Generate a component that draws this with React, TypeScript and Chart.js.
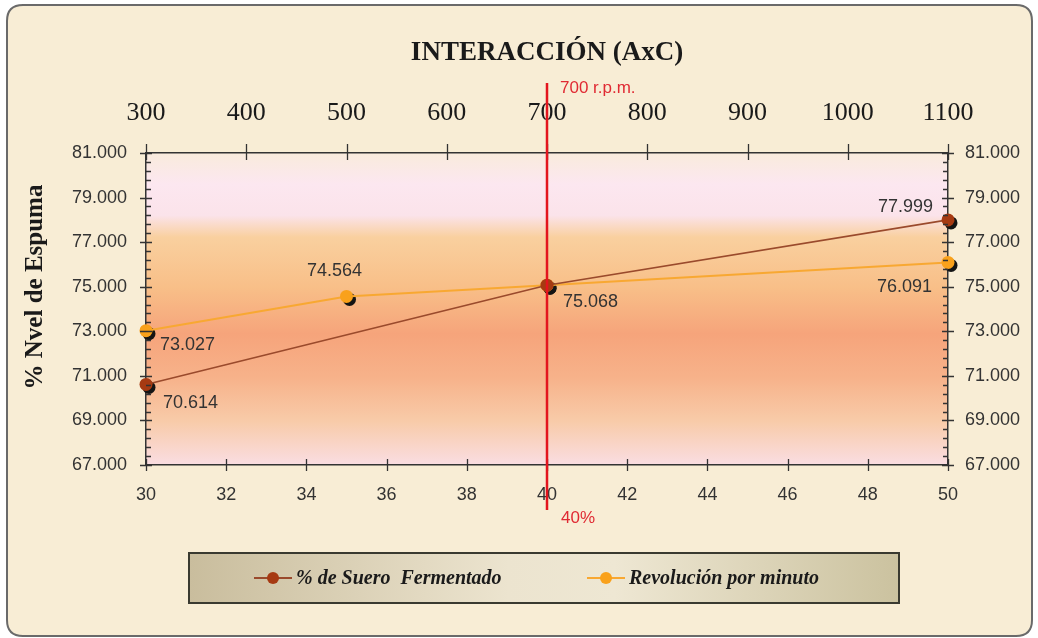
import React, { useEffect, useRef } from 'react';
import { Chart, registerables } from 'chart.js';

Chart.register(...registerables);

// ---- data ----
const sueroX = [30, 40, 50];
const sueroY = [70.614, 75.068, 77.999];
const rpmX = [300, 500, 700, 1100];
const rpmY = [73.027, 74.564, 75.068, 76.091];
const seriesNames = ['% de Suero  Fermentado', 'Revolución por minuto'];
const chartTitle = 'INTERACCIÓN (AxC)';
const yAxisTitle = '% Nvel de Espuma';
const refBottom = 40;
const refTopLabel = '700 r.p.m.';
const refBottomLabel = '40%';
const yMin = 67;
const yMax = 81;
const yStep = 2;
const yMinorStep = 0.4;
const xMin = 30;
const xMax = 50;
const xStep = 2;
const x2Min = 300;
const x2Max = 1100;
const x2Step = 100;

// label placement (style only): [dx, dy, align] ; null = no label
const sueroLabelPlace: any[] = [[17, 19, 'left'], [16, 17, 'left'], [-15, -13, 'right']];
const rpmLabelPlace: any[] = [[14, 14, 'left'], [-12, -25, 'center'], null, [-16, 25, 'right']];

const BROWN = '#a63a12';
const BROWN_LINE = '#9a4a2c';
const ORANGE = '#f9a11b';
const ORANGE_LINE = '#f8a832';
const SANS = '"Liberation Sans", Arial, sans-serif';
const SERIF = '"Liberation Serif", "Times New Roman", serif';

function roundRect(ctx: CanvasRenderingContext2D, x: number, y: number, w: number, h: number, r: number) {
  ctx.beginPath();
  ctx.moveTo(x + r, y);
  ctx.lineTo(x + w - r, y);
  ctx.quadraticCurveTo(x + w, y, x + w, y + r);
  ctx.lineTo(x + w, y + h - r);
  ctx.quadraticCurveTo(x + w, y + h, x + w - r, y + h);
  ctx.lineTo(x + r, y + h);
  ctx.quadraticCurveTo(x, y + h, x, y + h - r);
  ctx.lineTo(x, y + r);
  ctx.quadraticCurveTo(x, y, x + r, y);
  ctx.closePath();
}

const deco = {
  id: 'deco',
  beforeDraw(chart: any) {
    const { ctx, chartArea: a, width, height } = chart;
    ctx.save();
    ctx.fillStyle = '#ffffff';
    ctx.fillRect(0, 0, width, height);
    roundRect(ctx, 7, 5, width - 13, height - 7, 16);
    ctx.fillStyle = '#f8edd5';
    ctx.fill();
    ctx.lineWidth = 2;
    ctx.strokeStyle = '#6a6a6a';
    ctx.stroke();
    const g = ctx.createLinearGradient(0, a.top, 0, a.bottom);
    g.addColorStop(0.0, '#f9ebdc');
    g.addColorStop(0.1, '#fce7f0');
    g.addColorStop(0.2, '#fbe3ea');
    g.addColorStop(0.27, '#f9d09f');
    g.addColorStop(0.43, '#f8bf88');
    g.addColorStop(0.58, '#f6a47b');
    g.addColorStop(0.72, '#f7b28a');
    g.addColorStop(0.86, '#f8cba9');
    g.addColorStop(1.0, '#fadde2');
    ctx.fillStyle = g;
    ctx.fillRect(a.left, a.top, a.right - a.left, a.bottom - a.top);
    ctx.restore();
  },
  beforeDatasetsDraw(chart: any) {
    const { ctx } = chart;
    ctx.save();
    ctx.fillStyle = '#141414';
    chart.data.datasets.forEach((_: any, di: number) => {
      const meta = chart.getDatasetMeta(di);
      meta.data.forEach((el: any) => {
        ctx.beginPath();
        ctx.arc(el.x + 3, el.y + 3, 6.5, 0, Math.PI * 2);
        ctx.fill();
      });
    });
    ctx.restore();
  },
  afterDraw(chart: any) {
    const { ctx, chartArea: a } = chart;
    const sy = chart.scales.y;
    const sx = chart.scales.x;
    const sx2 = chart.scales.x2;
    ctx.save();
    ctx.strokeStyle = '#333333';
    ctx.lineWidth = 1.3;
    // y minor / major ticks both sides
    const n = Math.round((yMax - yMin) / yMinorStep);
    for (let i = 0; i <= n; i++) {
      const v = yMin + i * yMinorStep;
      const py = Math.round(sy.getPixelForValue(v)) + 0.5;
      const major = Math.abs((v - yMin) / yStep - Math.round((v - yMin) / yStep)) < 1e-6;
      ctx.beginPath();
      if (major) {
        ctx.moveTo(a.left - 6, py); ctx.lineTo(a.left + 6, py);
        ctx.moveTo(a.right - 6, py); ctx.lineTo(a.right + 6, py);
      } else {
        ctx.moveTo(a.left, py); ctx.lineTo(a.left + 5, py);
        ctx.moveTo(a.right - 5, py); ctx.lineTo(a.right, py);
      }
      ctx.stroke();
    }
    sx.ticks.forEach((t: any) => {
      const px = Math.round(sx.getPixelForValue(t.value)) + 0.5;
      ctx.beginPath();
      ctx.moveTo(px, a.bottom - 6); ctx.lineTo(px, a.bottom + 6);
      ctx.stroke();
    });
    sx2.ticks.forEach((t: any) => {
      const px = Math.round(sx2.getPixelForValue(t.value)) + 0.5;
      ctx.beginPath();
      ctx.moveTo(px, a.top - 9); ctx.lineTo(px, a.top + 7);
      ctx.stroke();
    });

    // data labels
    ctx.font = `18px ${SANS}`;
    ctx.fillStyle = '#333333';
    ctx.textBaseline = 'middle';
    const drawLabels = (di: number, vals: number[], place: any[]) => {
      const meta = chart.getDatasetMeta(di);
      meta.data.forEach((el: any, i: number) => {
        const p = place[i];
        if (!p) return;
        ctx.textAlign = p[2];
        ctx.fillText(vals[i].toFixed(3), el.x + p[0], el.y + p[1]);
      });
    };
    drawLabels(0, sueroY, sueroLabelPlace);
    drawLabels(1, rpmY, rpmLabelPlace);

    // reference line
    const rx = sx.getPixelForValue(refBottom);
    ctx.strokeStyle = '#e3151e';
    ctx.lineWidth = 2.5;
    ctx.beginPath();
    ctx.moveTo(rx, 83);
    ctx.lineTo(rx, 510);
    ctx.stroke();
    ctx.fillStyle = '#e02a33';
    ctx.font = `17px ${SANS}`;
    ctx.textAlign = 'left';
    ctx.fillText(refTopLabel, rx + 13, 88);
    ctx.fillText(refBottomLabel, rx + 14, 518);

    // title
    ctx.fillStyle = '#1a1a1a';
    ctx.font = `bold 27px ${SERIF}`;
    ctx.textAlign = 'center';
    ctx.fillText(chartTitle, (a.left + a.right) / 2, 53);

    // y axis title
    ctx.save();
    ctx.translate(36, (a.top + a.bottom) / 2 - 22);
    ctx.rotate(-Math.PI / 2);
    ctx.font = `bold 25px ${SERIF}`;
    ctx.fillText(yAxisTitle, 0, 0);
    ctx.restore();

    // legend
    const lx = 189, ly = 553, lw = 710, lh = 50;
    const lg = ctx.createLinearGradient(lx, 0, lx + lw, 0);
    lg.addColorStop(0, '#c9bd9d');
    lg.addColorStop(0.45, '#ece4cf');
    lg.addColorStop(0.6, '#eee7d3');
    lg.addColorStop(1, '#cbc29f');
    ctx.fillStyle = lg;
    ctx.fillRect(lx, ly, lw, lh);
    ctx.strokeStyle = '#3a3a30';
    ctx.lineWidth = 2;
    ctx.strokeRect(lx, ly, lw, lh);
    const cy = ly + lh / 2;
    const items = [
      { x: 254, color: BROWN, line: BROWN_LINE },
      { x: 587, color: ORANGE, line: ORANGE_LINE },
    ];
    items.forEach((it, i) => {
      ctx.strokeStyle = it.line;
      ctx.lineWidth = 2;
      ctx.beginPath();
      ctx.moveTo(it.x, cy); ctx.lineTo(it.x + 38, cy);
      ctx.stroke();
      ctx.fillStyle = it.color;
      ctx.beginPath();
      ctx.arc(it.x + 19, cy, 6, 0, Math.PI * 2);
      ctx.fill();
      ctx.fillStyle = '#1a1a1a';
      ctx.font = `italic bold 20px ${SERIF}`;
      ctx.textAlign = 'left';
      ctx.fillText(chart.data.datasets[i].label, it.x + 42, cy + 1);
    });
    ctx.restore();
  },
};

export default function App() {
  const ref = useRef<HTMLCanvasElement | null>(null);
  useEffect(() => {
    document.body.style.margin = '0';
    const canvas = ref.current!;
    const chart = new Chart(canvas, {
      type: 'line',
      data: {
        datasets: [
          {
            label: seriesNames[0],
            data: sueroX.map((x, i) => ({ x, y: sueroY[i] })),
            xAxisID: 'x',
            yAxisID: 'y',
            borderColor: BROWN_LINE,
            borderWidth: 1.6,
            pointBackgroundColor: BROWN,
            pointBorderColor: BROWN,
            pointRadius: 6.5,
            pointBorderWidth: 0,
            clip: false as any,
          },
          {
            label: seriesNames[1],
            data: rpmX.map((x, i) => ({ x, y: rpmY[i] })),
            xAxisID: 'x2',
            yAxisID: 'y',
            borderColor: ORANGE_LINE,
            borderWidth: 2,
            pointBackgroundColor: ORANGE,
            pointBorderColor: ORANGE,
            pointRadius: 6.5,
            pointBorderWidth: 0,
            clip: false as any,
          },
        ],
      },
      options: {
        responsive: false,
        animation: false,
        devicePixelRatio: 1,
        layout: { padding: 0 },
        plugins: { legend: { display: false }, title: { display: false }, tooltip: { enabled: false } },
        scales: {
          x: {
            type: 'linear',
            position: 'bottom',
            min: xMin,
            max: xMax,
            grid: { display: false, drawTicks: false },
            border: { display: true, color: '#333333', width: 1.5 },
            ticks: { stepSize: xStep, padding: 19, color: '#333333', font: { family: SANS, size: 18 }, autoSkip: false, maxRotation: 0, callback: (v: any) => String(v) },
            afterFit: (s: any) => { s.height = 173; },
          },
          x2: {
            type: 'linear',
            position: 'top',
            min: x2Min,
            max: x2Max,
            grid: { display: false, drawTicks: false },
            border: { display: true, color: '#333333', width: 1.5 },
            ticks: { stepSize: x2Step, padding: 24, color: '#1a1a1a', font: { family: SERIF, size: 26 }, autoSkip: false, maxRotation: 0, callback: (v: any) => String(v) },
            afterFit: (s: any) => { s.height = 153; },
          },
          y: {
            type: 'linear',
            position: 'left',
            min: yMin,
            max: yMax,
            grid: { display: false, drawTicks: false },
            border: { display: true, color: '#333333', width: 1.5 },
            ticks: { stepSize: yStep, padding: 19, color: '#333333', font: { family: SANS, size: 18 }, callback: (v: any) => Number(v).toFixed(3) },
            afterFit: (s: any) => { s.width = 146; },
          },
          y2: {
            type: 'linear',
            position: 'right',
            min: yMin,
            max: yMax,
            grid: { display: false, drawTicks: false },
            border: { display: true, color: '#333333', width: 1.5 },
            ticks: { stepSize: yStep, padding: 17, color: '#333333', font: { family: SANS, size: 18 }, callback: (v: any) => Number(v).toFixed(3) },
            afterFit: (s: any) => { s.width = 90; },
          },
        },
      } as any,
      plugins: [deco],
    });
    return () => chart.destroy();
  }, []);
  return <canvas ref={ref} width={1038} height={638} style={{ display: 'block' }} />;
}
